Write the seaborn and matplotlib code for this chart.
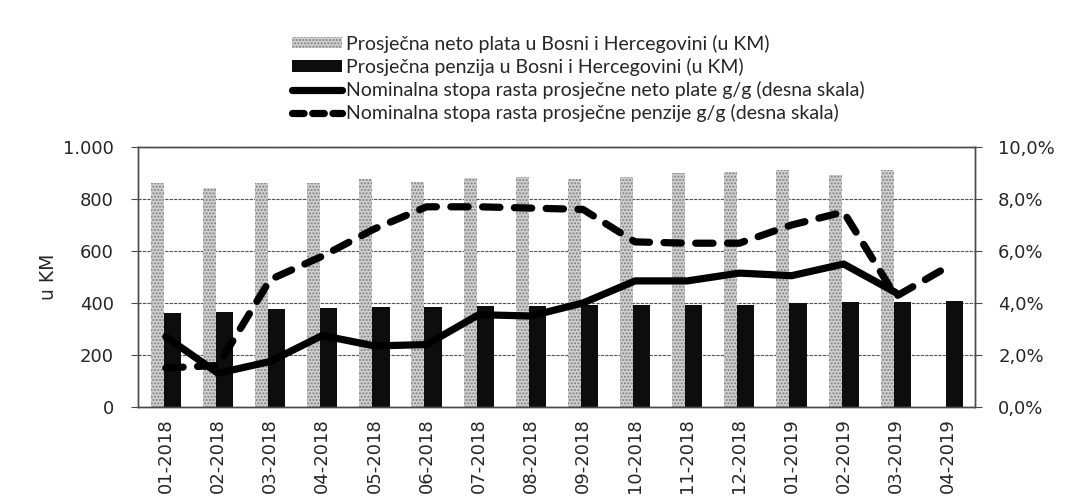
import numpy as np
import pandas as pd
import matplotlib
matplotlib.use('Agg')
import matplotlib.pyplot as plt
import seaborn as sns
from matplotlib.ticker import FuncFormatter, MultipleLocator
from matplotlib.patches import Patch
from matplotlib.lines import Line2D

# ── Data ────────────────────────────────────────────────────
months = ['01-2018', '02-2018', '03-2018', '04-2018', '05-2018', '06-2018',
          '07-2018', '08-2018', '09-2018', '10-2018', '11-2018', '12-2018',
          '01-2019', '02-2019', '03-2019', '04-2019']
neto_plata = [862, 842, 862, 862, 878, 866, 880, 886, 876, 885, 900, 905,
              912, 893, 912, np.nan]
penzija = [362, 366, 377, 381, 385, 385, 388, 388, 392, 392, 392, 392,
           400, 404, 404, 408]
rast_plate = [2.7, 1.3, 1.75, 2.75, 2.35, 2.4, 3.55, 3.5, 4.0, 4.85, 4.85,
              5.15, 5.05, 5.5, 4.4, np.nan]
rast_penzije = [1.5, 1.6, 4.9, 5.8, 6.85, 7.7, 7.7, 7.65, 7.6, 6.35, 6.3,
                6.3, 7.0, 7.5, 4.25, 5.4]

series_labels = [
    'Prosječna neto plata u Bosni i Hercegovini (u KM)',
    'Prosječna penzija u Bosni i Hercegovini (u KM)',
    'Nominalna stopa rasta prosječne neto plate g/g (desna skala)',
    'Nominalna stopa rasta prosječne penzije g/g (desna skala)',
]

sns.set_theme(style='white')
plt.rcParams['font.family'] = ['DejaVu Sans']
plt.rcParams['hatch.color'] = '#808080'
plt.rcParams['hatch.linewidth'] = 1.0

GRAY = '#d0d0d0'
BLACK = '#0d0d0d'
EDGE = '#4a4a4a'

fig = plt.figure(figsize=(10.84, 5.0), dpi=100)
ax = fig.add_axes([0.127, 0.186, 0.772, 0.52])

# ── Bars ────────────────────────────────────────────────────
n = len(months)
df = pd.DataFrame({
    'mjesec': months * 2,
    'iznos': neto_plata + penzija,
    'serija': [series_labels[0]] * n + [series_labels[1]] * n,
})
sns.barplot(data=df, x='mjesec', y='iznos', hue='serija',
            palette=[GRAY, BLACK], width=0.58, gap=0, saturation=1,
            legend=False, ax=ax, zorder=2)

# gray bars narrower, black bars a bit wider (like the original)
for p in ax.containers[0]:
    p.set_width(0.25)
    p.set_hatch('.....')
    p.set_edgecolor('#808080')
    p.set_linewidth(0)
for p in ax.containers[1]:
    p.set_x(p.get_x() - 0.04)
    p.set_width(0.33)
    p.set_linewidth(0)

ax.set_ylim(0, 1000)
ax.set_xlim(-0.54, n - 0.49)
ax.yaxis.set_major_locator(MultipleLocator(200))
ax.yaxis.set_major_formatter(FuncFormatter(lambda v, _: f'{v:,.0f}'.replace(',', '.')))
ax.set_axisbelow(True)
ax.yaxis.grid(True, color='#555555', lw=0.8, ls=(0, (3, 1)))
ax.set_xlabel('')
ax.set_ylabel('u KM', fontsize=13.5, labelpad=4)
ax.tick_params(axis='y', which='both', left=True, length=5, width=0.8,
               color=EDGE, labelsize=13, pad=12)
ax.tick_params(axis='x', length=0, labelsize=13, pad=8)
plt.setp(ax.get_xticklabels(), rotation=90)

# ── Lines on right axis ────────────────────────────────────
ax2 = ax.twinx()
pos = np.arange(n)
sns.lineplot(x=pos, y=rast_plate, ax=ax2, color='black', lw=5.2)
sns.lineplot(x=pos, y=rast_penzije, ax=ax2, color='black', lw=5.2)
solid_line, dash_line = ax2.lines[0], ax2.lines[1]
solid_line.set_solid_capstyle('round')
solid_line.set_solid_joinstyle('round')
dash_line.set_linestyle((0, (2.4, 2.0)))
dash_line.set_dash_capstyle('round')
dash_line.set_dash_joinstyle('round')

ax2.set_ylim(0, 10)
ax2.yaxis.set_major_locator(MultipleLocator(2))
ax2.yaxis.set_major_formatter(FuncFormatter(lambda v, _: f'{v:.1f}%'.replace('.', ',')))
ax2.tick_params(axis='y', right=True, length=5, width=0.8, color=EDGE,
                labelsize=13, pad=12)
ax2.grid(False)
ax2.set_ylabel('')

for a in (ax, ax2):
    for s in a.spines.values():
        s.set_color(EDGE)
        s.set_linewidth(1.0)
        s.set_linestyle((0, (4, 1)))

# ── Legend ──────────────────────────────────────────────────
handles = [
    Patch(facecolor=GRAY, edgecolor='#808080', hatch='.....', linewidth=0),
    Patch(facecolor=BLACK, edgecolor=BLACK, linewidth=0),
    Line2D([0], [0], color='black', lw=5.2, solid_capstyle='round'),
    Line2D([0], [0], color='black', lw=5.2, linestyle=(0, (1.6, 1.2)),
           dash_capstyle='round'),
]
fig.legend(handles, series_labels, loc='upper left',
           bbox_to_anchor=(282 / 1084, 1 - 25 / 500), frameon=False,
           handlelength=2.6, handleheight=0.5, handletextpad=0.2,
           labelspacing=0.26, borderpad=0,
           prop={'family': ['Lato', 'DejaVu Sans'], 'size': 14})

fig.savefig('out.png', dpi=100)
plt.close(fig)
